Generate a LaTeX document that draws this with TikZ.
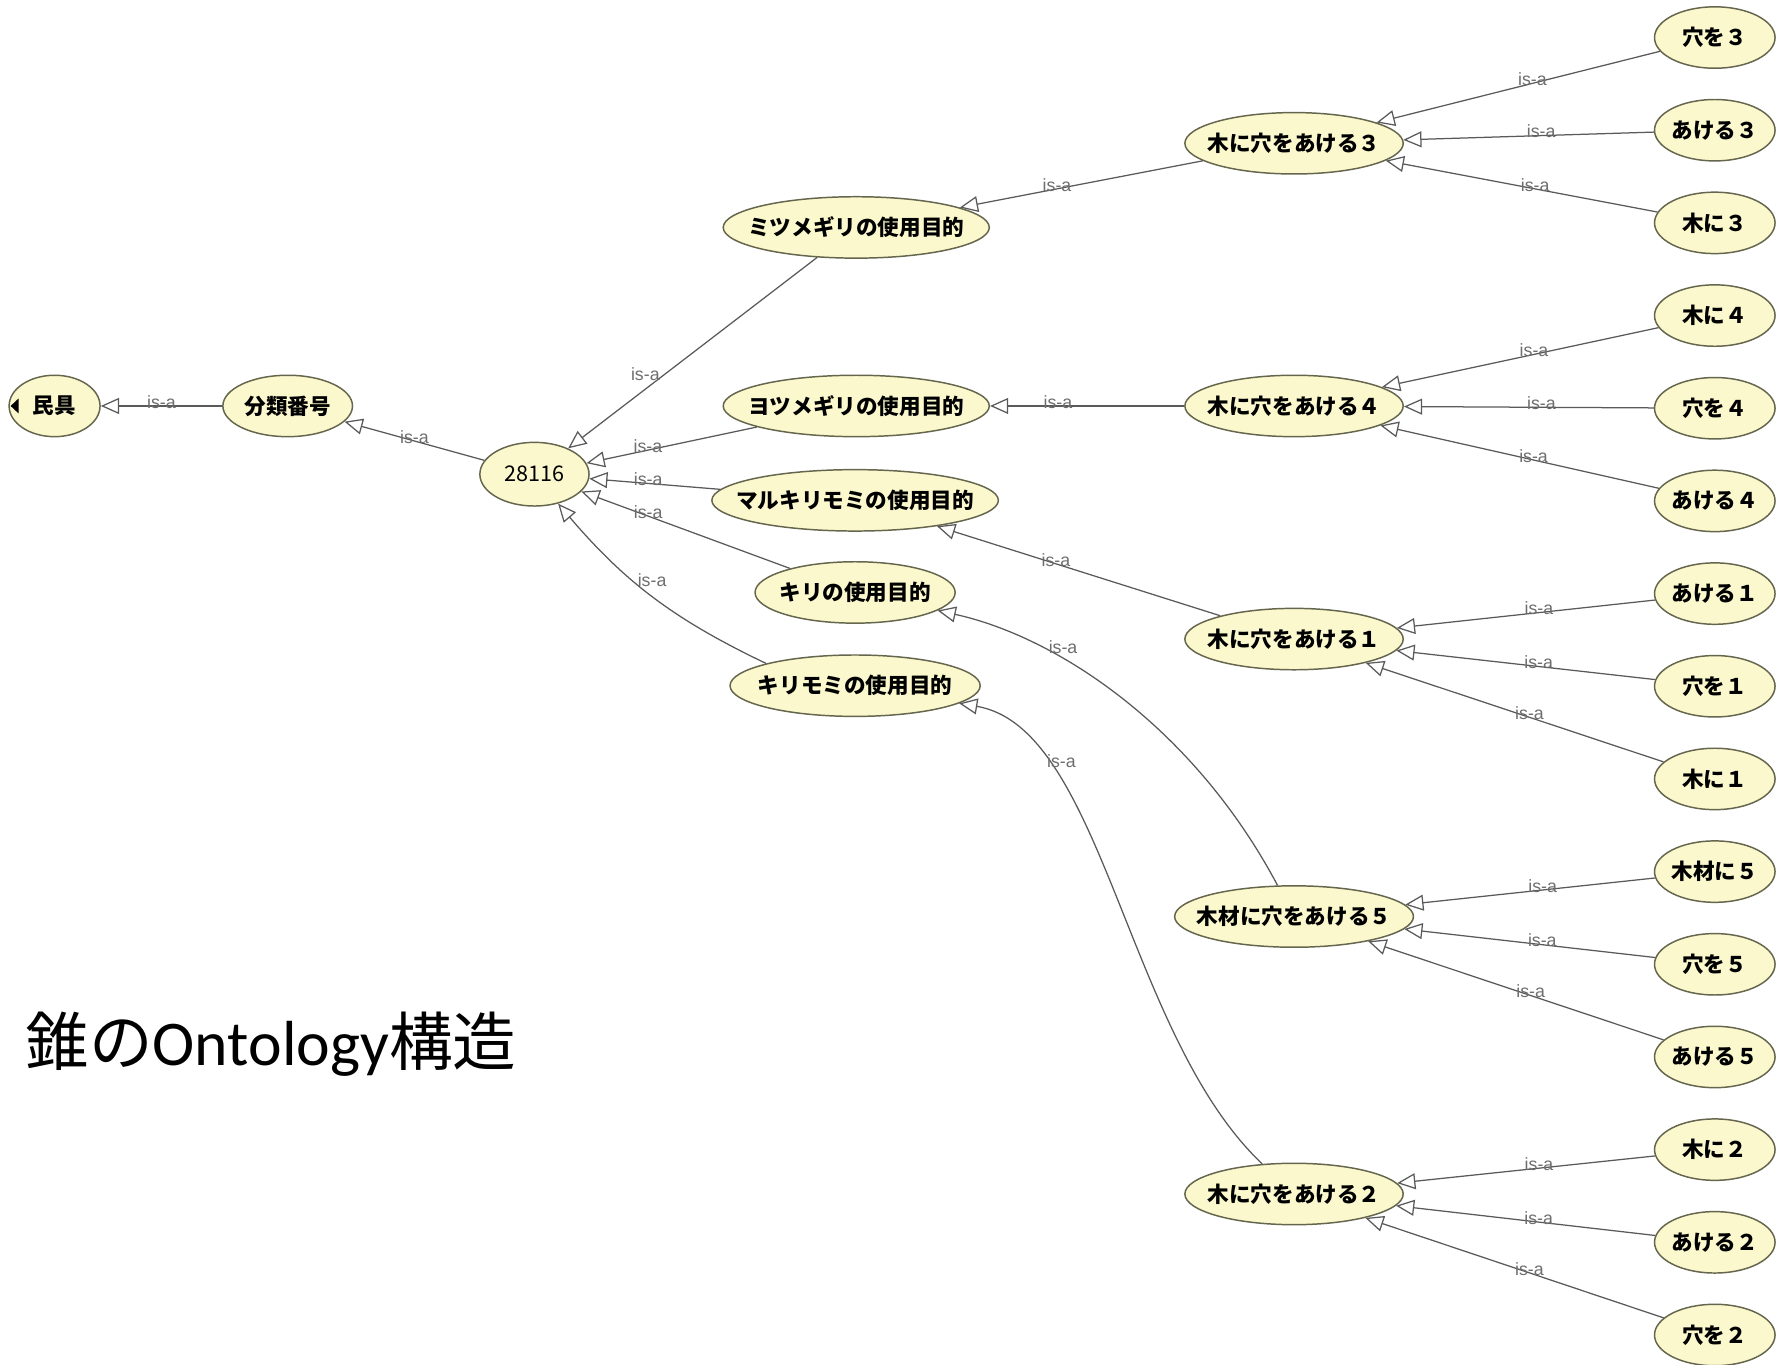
\documentclass[tikz,border=0pt]{standalone}
\usepackage{fontspec}
\setmainfont{Liberation Sans}
\newfontfamily\jp{Noto Sans CJK JP}
\newfontfamily\carl{Carlito}
\usetikzlibrary{arrows.meta,positioning,shapes.geometric}
\definecolor{cream}{HTML}{FAF8CC}
\definecolor{rim}{HTML}{66664E}
\definecolor{wire}{HTML}{5A5A5A}
\definecolor{tagc}{HTML}{6E6E6E}
\tikzset{cls/.style={ellipse,draw=rim,fill=cream,line width=0.65pt,minimum height=27pt,inner xsep=-12pt,font=\jp\bfseries\fontsize{9.5}{11}\selectfont},leaf/.style={cls,minimum width=53pt},isa/.style={-{Triangle[open,length=8pt,width=7pt]},draw=wire,line width=0.55pt},tag/.style={font=\fontsize{7.8}{9}\selectfont,text=tagc,anchor=base,inner sep=0pt,yshift=-1pt}}
\begin{document}
\begin{tikzpicture}[x=0.5pt,y=-0.5pt,node distance=13.1pt]
\useasboundingbox[fill=white] (0,0) rectangle (1568,1200);
% root side
\node[cls,minimum width=40pt] (mingu) at (48,357) {民具};
\fill[black] ([xshift=1pt]mingu.west) -- ++(3.5pt,3.3pt) -- ++(0,-6.6pt) -- cycle;
\node[cls,minimum width=57pt] (bunrui) at (253,357) {分類番号};
\node[cls,minimum width=48pt,minimum height=28pt,font=\jp\fontsize{9.5}{11}\selectfont] (root) at (470,417) {28116};
% purposes
\node[cls,minimum width=117pt] (mitsume) at (753,200) {ミツメギリの使用目的};
\node[cls,minimum width=117pt] (yotsume) at (753,357) {ヨツメギリの使用目的};
\node[cls,minimum width=126pt] (marukiri) at (752,440) {マルキリモミの使用目的};
\node[cls,minimum width=88pt] (kiri) at (752,521) {キリの使用目的};
\node[cls,minimum width=110pt] (kirimomi) at (752,603) {キリモミの使用目的};
% actions
\node[cls,minimum width=96pt] (ana3) at (1138,126) {木に穴をあける３};
\node[cls,minimum width=96pt] (ana4) at (1138,357) {木に穴をあける４};
\node[cls,minimum width=96pt] (ana1) at (1138,562) {木に穴をあける１};
\node[cls,minimum width=105pt] (ana5) at (1138,806) {木材に穴をあける５};
\node[cls,minimum width=96pt] (ana2) at (1138,1050) {木に穴をあける２};
% leaves
\node[leaf] (hole3) at (1508,33) {穴を３};
\node[leaf,below=of hole3] (ake3) {あける３};
\node[leaf,below=of ake3] (ki3) {木に３};
\node[leaf,below=of ki3] (ki4) {木に４};
\node[leaf,below=of ki4] (hole4) {穴を４};
\node[leaf,below=of hole4] (ake4) {あける４};
\node[leaf,below=of ake4] (ake1) {あける１};
\node[leaf,below=of ake1] (hole1) {穴を１};
\node[leaf,below=of hole1] (ki1) {木に１};
\node[leaf,below=of ki1] (wood5) {木材に５};
\node[leaf,below=of wood5] (hole5) {穴を５};
\node[leaf,below=of hole5] (ake5) {あける５};
\node[leaf,below=of ake5] (ki2) {木に２};
\node[leaf,below=of ki2] (ake2) {あける２};
\node[leaf,below=of ake2] (hole2) {穴を２};
\node[anchor=west,inner sep=0pt,font=\fontsize{28}{32}\selectfont] (title) at (22,918) {\jp 錐の\carl Ontology\jp 構造};
% is-a links
\draw[isa] (bunrui)--(mingu) node[tag,pos=.5]{is-a};
\draw[isa] (root)--(bunrui) node[tag,pos=.5]{is-a};
\draw[isa] (mitsume)--(root) node[tag,pos=.63,anchor=base east]{is-a};
\draw[isa] (yotsume)--(root) node[tag,pos=.64]{is-a};
\draw[isa] (marukiri)--(root) node[tag,pos=.55]{is-a};
\draw[isa] (kiri)--(root) node[tag,pos=.68]{is-a};
\draw[isa] (kirimomi.north west) to[bend left=12] node[tag,pos=.58,anchor=base west]{is-a} (root);
\draw[isa] (ana3)--(mitsume) node[tag,pos=.6]{is-a};
\draw[isa] (ana4)--(yotsume) node[tag,pos=.65]{is-a};
\draw[isa] (ana1)--(marukiri) node[tag,pos=.58]{is-a};
\draw[isa] (ana5) .. controls (1050,640) and (930,560) .. (kiri) node[tag,pos=.7,anchor=base west]{is-a};
\draw[isa] (ana2) .. controls (990,910) and (970,640) .. (kirimomi) node[tag,pos=.755,anchor=base west]{is-a};
\draw[isa] (hole3)--(ana3) node[tag,pos=.45]{is-a};
\draw[isa] (ake3)--(ana3) node[tag,pos=.45]{is-a};
\draw[isa] (ki3)--(ana3) node[tag,pos=.45]{is-a};
\draw[isa] (ki4)--(ana4) node[tag,pos=.45]{is-a};
\draw[isa] (hole4)--(ana4) node[tag,pos=.45]{is-a};
\draw[isa] (ake4)--(ana4) node[tag,pos=.45]{is-a};
\draw[isa] (ake1)--(ana1) node[tag,pos=.45]{is-a};
\draw[isa] (hole1)--(ana1) node[tag,pos=.45]{is-a};
\draw[isa] (ki1)--(ana1) node[tag,pos=.45]{is-a};
\draw[isa] (wood5)--(ana5) node[tag,pos=.45]{is-a};
\draw[isa] (hole5)--(ana5) node[tag,pos=.45]{is-a};
\draw[isa] (ake5)--(ana5) node[tag,pos=.45]{is-a};
\draw[isa] (ki2)--(ana2) node[tag,pos=.45]{is-a};
\draw[isa] (ake2)--(ana2) node[tag,pos=.45]{is-a};
\draw[isa] (hole2)--(ana2) node[tag,pos=.45]{is-a};
\end{tikzpicture}
\end{document}
